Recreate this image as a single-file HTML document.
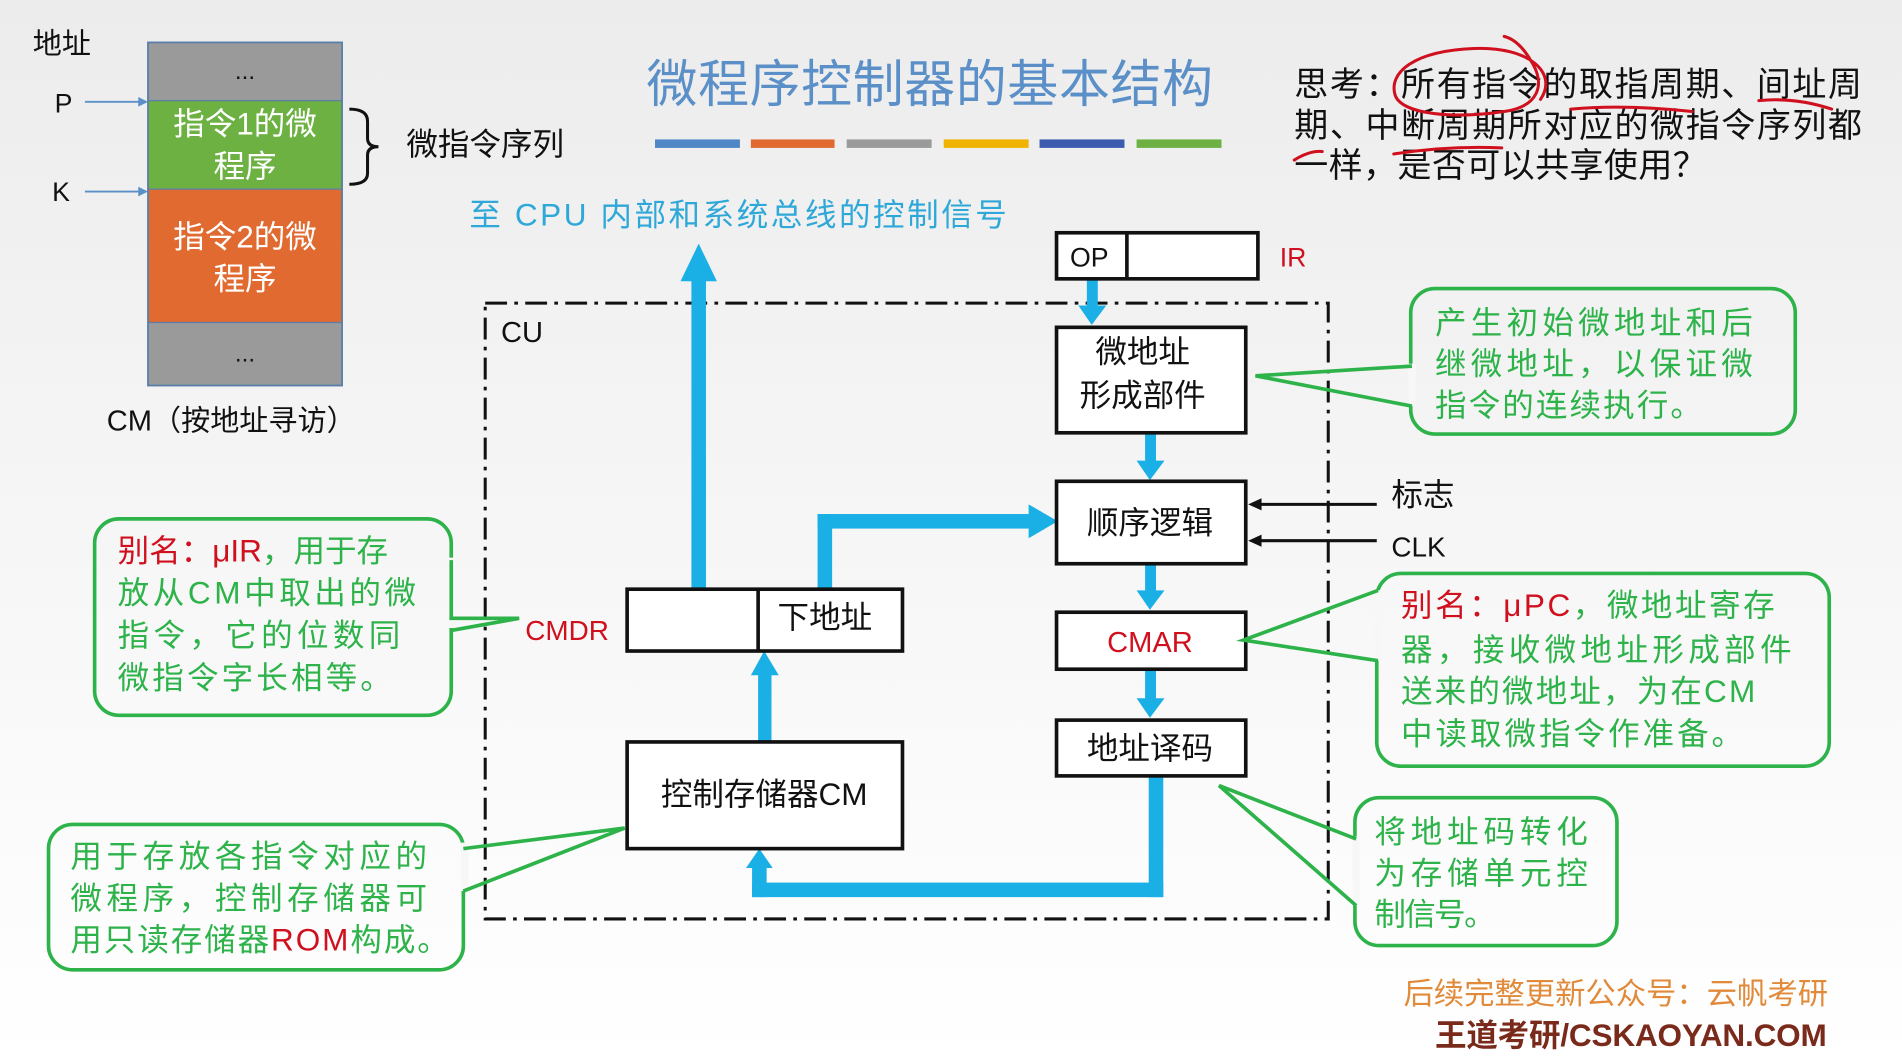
<!DOCTYPE html>
<html><head><meta charset="utf-8"><style>
html,body{margin:0;padding:0;width:1902px;height:1062px;overflow:hidden;background:#fff}
svg{display:block}
text{font-family:"Liberation Sans","Noto Sans CJK SC",sans-serif}
</style></head><body>
<svg width="1902" height="1062" viewBox="0 0 1568 876" preserveAspectRatio="none" xmlns="http://www.w3.org/2000/svg">
<defs>
<linearGradient id="bg" x1="0" y1="0" x2="0" y2="1">
<stop offset="0" stop-color="#ececec"/><stop offset="0.5" stop-color="#f6f6f6"/><stop offset="1" stop-color="#ffffff"/>
</linearGradient>
</defs>
<rect width="1568" height="876" fill="url(#bg)"/>

<!-- CM column -->
<text x="27" y="44" font-size="24" fill="#111">地址</text>
<rect x="122" y="35" width="160" height="48" fill="#9a9a9a"/>
<rect x="122" y="83" width="160" height="73" fill="#6db143"/>
<rect x="122" y="156" width="160" height="110" fill="#e06a30"/>
<rect x="122" y="266" width="160" height="52" fill="#9a9a9a"/>
<rect x="122" y="35" width="160" height="283" fill="none" stroke="#5a7fa8" stroke-width="1.5"/>
<line x1="122" y1="83" x2="282" y2="83" stroke="#5a7fa8"/><line x1="122" y1="156" x2="282" y2="156" stroke="#5a7fa8"/><line x1="122" y1="266" x2="282" y2="266" stroke="#5a7fa8"/>
<text x="202" y="65" font-size="20" fill="#111" text-anchor="middle">...</text>
<text x="202" y="298" font-size="20" fill="#111" text-anchor="middle">...</text>
<text x="202" y="111" font-size="26" fill="#fff" text-anchor="middle">指令1的微</text>
<text x="202" y="146" font-size="26" fill="#fff" text-anchor="middle">程序</text>
<text x="202" y="204" font-size="26" fill="#fff" text-anchor="middle">指令2的微</text>
<text x="202" y="239" font-size="26" fill="#fff" text-anchor="middle">程序</text>
<text x="45" y="93" font-size="22" fill="#111">P</text>
<text x="43" y="166" font-size="22" fill="#111">K</text>
<line x1="70" y1="84" x2="116" y2="84" stroke="#5a8fc8" stroke-width="1.5"/><polygon points="122,84 114,80 114,88" fill="#5a8fc8"/>
<line x1="70" y1="158" x2="116" y2="158" stroke="#5a8fc8" stroke-width="1.5"/><polygon points="122,158 114,154 114,162" fill="#5a8fc8"/>
<path d="M288,90 Q303,90 303,100 L303,114 Q303,121 312,121 Q303,121 303,128 L303,143 Q303,152 288,152" fill="none" stroke="#111" stroke-width="2.5"/>
<text x="335" y="128" font-size="26" fill="#111">微指令序列</text>
<text x="88" y="355" font-size="24" fill="#111">CM（按地址寻访）</text>

<!-- Title -->
<text x="533" y="84" font-size="42" fill="#5b8fc8" textLength="467">微程序控制器的基本结构</text>
<rect x="540" y="115" width="70" height="7" fill="#4f86c6"/>
<rect x="619" y="115" width="69" height="7" fill="#e06a30"/>
<rect x="698" y="115" width="70" height="7" fill="#9a9a9a"/>
<rect x="778" y="115" width="70" height="7" fill="#f0b400"/>
<rect x="857" y="115" width="70" height="7" fill="#3c5cb0"/>
<rect x="937" y="115" width="70" height="7" fill="#6db143"/>

<!-- thinking -->
<text x="1067" y="79" font-size="28" fill="#111" textLength="468">思考：所有指令的取指周期、间址周</text>
<text x="1067" y="113" font-size="28" fill="#111" textLength="468">期、中断周期所对应的微指令序列都</text>
<text x="1067" y="146" font-size="28" fill="#111" textLength="340">一样，是否可以共享使用？</text>
<g fill="none" stroke="#d0101e" stroke-width="2.5" stroke-linecap="round">
<path d="M1270,82 C1285,60 1260,38 1215,40 C1165,42 1145,60 1150,78 C1155,95 1200,98 1240,92 C1268,88 1275,70 1262,50 C1255,38 1248,32 1240,30"/>
<path d="M1295,90 Q1340,86 1395,92"/>
<path d="M1450,83 Q1480,80 1510,90"/>
<path d="M1149,127 Q1195,120 1238,122"/>
<path d="M1067,132 Q1080,124 1090,125"/>
</g>

<!-- blue subtitle -->
<text x="387" y="186" font-size="26" fill="#2ea8d8" textLength="443">至 CPU 内部和系统总线的控制信号</text>

<!-- CU box -->
<rect x="400" y="250" width="695" height="508" fill="none" stroke="#111" stroke-width="2.5" stroke-dasharray="18,6,3,6"/>
<text x="413" y="282" font-size="24" fill="#111">CU</text>

<!-- blue thick arrows -->
<g fill="#1ab0e6">
<rect x="570" y="230" width="12" height="257"/><polygon points="561,232 591,232 576,201"/>
<rect x="674" y="424" width="12" height="62"/><rect x="674" y="424" width="175" height="12"/><polygon points="848,416 848,444 872,430"/>
<rect x="625" y="555" width="11" height="57"/><polygon points="619,557 642,557 630,537"/>
<rect x="947" y="640" width="12" height="100"/><rect x="620" y="728" width="339" height="12"/><rect x="620" y="715" width="12" height="25"/><polygon points="615,716 637,716 626,700"/>
<rect x="896" y="230" width="9" height="25"/><polygon points="889,252 912,252 900,268"/>
<rect x="944" y="357" width="9" height="25"/><polygon points="937,380 960,380 948,396"/>
<rect x="944" y="465" width="9" height="24"/><polygon points="937,487 960,487 948,503"/>
<rect x="944" y="552" width="9" height="26"/><polygon points="937,576 960,576 948,592"/>
</g>

<!-- boxes -->
<g fill="#fff" stroke="#111" stroke-width="3">
<rect x="871" y="192" width="166" height="38"/>
<rect x="871" y="270" width="156" height="87"/>
<rect x="871" y="397" width="156" height="68"/>
<rect x="871" y="505" width="156" height="47"/>
<rect x="871" y="594" width="156" height="46"/>
<rect x="517" y="612" width="227" height="88"/>
<rect x="517" y="486" width="227" height="51"/>
</g>
<line x1="929" y1="192" x2="929" y2="230" stroke="#111" stroke-width="3"/>
<line x1="625" y1="486" x2="625" y2="537" stroke="#111" stroke-width="3"/>
<text x="898" y="220" font-size="22" fill="#111" text-anchor="middle">OP</text>
<text x="1055" y="220" font-size="22" fill="#d0101e">IR</text>
<text x="942" y="299" font-size="26" fill="#111" text-anchor="middle">微地址</text>
<text x="942" y="335" font-size="26" fill="#111" text-anchor="middle">形成部件</text>
<text x="948" y="440" font-size="26" fill="#111" text-anchor="middle">顺序逻辑</text>
<text x="948" y="538" font-size="24" fill="#d0101e" text-anchor="middle">CMAR</text>
<text x="948" y="626" font-size="26" fill="#111" text-anchor="middle">地址译码</text>
<text x="630" y="664" font-size="26" fill="#111" text-anchor="middle">控制存储器CM</text>
<text x="680" y="518" font-size="26" fill="#111" text-anchor="middle">下地址</text>
<text x="433" y="528" font-size="23" fill="#d0101e">CMDR</text>

<!-- 标志 / CLK -->
<line x1="1037" y1="416" x2="1135" y2="416" stroke="#111" stroke-width="2.5"/><polygon points="1029,416 1040,411 1040,421" fill="#111"/>
<line x1="1037" y1="446" x2="1135" y2="446" stroke="#111" stroke-width="2.5"/><polygon points="1029,446 1040,441 1040,451" fill="#111"/>
<text x="1147" y="417" font-size="26" fill="#111">标志</text>
<text x="1147" y="459" font-size="23" fill="#111">CLK</text>

<!-- callouts -->
<g fill="none" stroke="#2db34a" stroke-width="3">
<rect x="1163" y="238" width="317" height="120" rx="20"/>
<rect x="78" y="428" width="294" height="162" rx="20"/>
<rect x="40" y="680" width="342" height="120" rx="20"/>
<rect x="1135" y="473" width="373" height="159" rx="20"/>
<rect x="1117" y="658" width="216" height="122" rx="20"/>
</g>
<g fill="#f7f7f7" stroke="none">
<polygon points="1161,300 1167,300 1167,335 1161,335"/>
<polygon points="370,460 376,460 376,518 370,518"/>
<polygon points="380,695 386,695 386,735 380,735"/>
<polygon points="1133,487 1139,487 1139,545 1133,545"/>
<polygon points="1115,690 1121,690 1121,747 1115,747"/>
</g>
<g fill="none" stroke="#2db34a" stroke-width="3" stroke-linejoin="miter">
<polyline points="1164,302 1035,310 1164,335"/>
<polyline points="372,462 372,510 428,510 372,520"/>
<polyline points="382,700 515,683 382,735"/>
<polyline points="1136,487 1025,528 1136,545"/>
<polyline points="1118,692 1005,648 1118,747"/>
</g>
<g font-size="26" fill="#2db34a">
<text x="1183" y="275" textLength="262">产生初始微地址和后</text>
<text x="1183" y="309" textLength="262">继微地址，以保证微</text>
<text x="1183" y="343" textLength="220">指令的连续执行。</text>
<text x="97" y="463"><tspan fill="#d0101e">别名：μIR</tspan>，用于存</text>
<text x="97" y="498" textLength="246">放从CM中取出的微</text>
<text x="97" y="533" textLength="233">指令，它的位数同</text>
<text x="97" y="568" textLength="226">微指令字长相等。</text>
<text x="58" y="715" textLength="294">用于存放各指令对应的</text>
<text x="58" y="750" textLength="294">微程序，控制存储器可</text>
<text x="58" y="784" textLength="312">用只读存储器<tspan fill="#d0101e">ROM</tspan>构成。</text>
<text x="1155" y="508" textLength="308"><tspan fill="#d0101e">别名：μPC</tspan>，微地址寄存</text>
<text x="1155" y="545" textLength="322">器，接收微地址形成部件</text>
<text x="1155" y="579" textLength="292">送来的微地址，为在CM</text>
<text x="1155" y="614" textLength="282">中读取微指令作准备。</text>
<text x="1133" y="695" textLength="176">将地址码转化</text>
<text x="1133" y="729" textLength="176">为存储单元控</text>
<text x="1133" y="763" textLength="100">制信号。</text>
</g>

<!-- footer -->
<text x="1157" y="828" font-size="25" fill="#e08a3a" textLength="350">后续完整更新公众号：云帆考研</text>
<text x="1183" y="863" font-size="26" fill="#7a2a1a" font-weight="bold" textLength="323">王道考研/CSKAOYAN.COM</text>
</svg>
</body></html>
